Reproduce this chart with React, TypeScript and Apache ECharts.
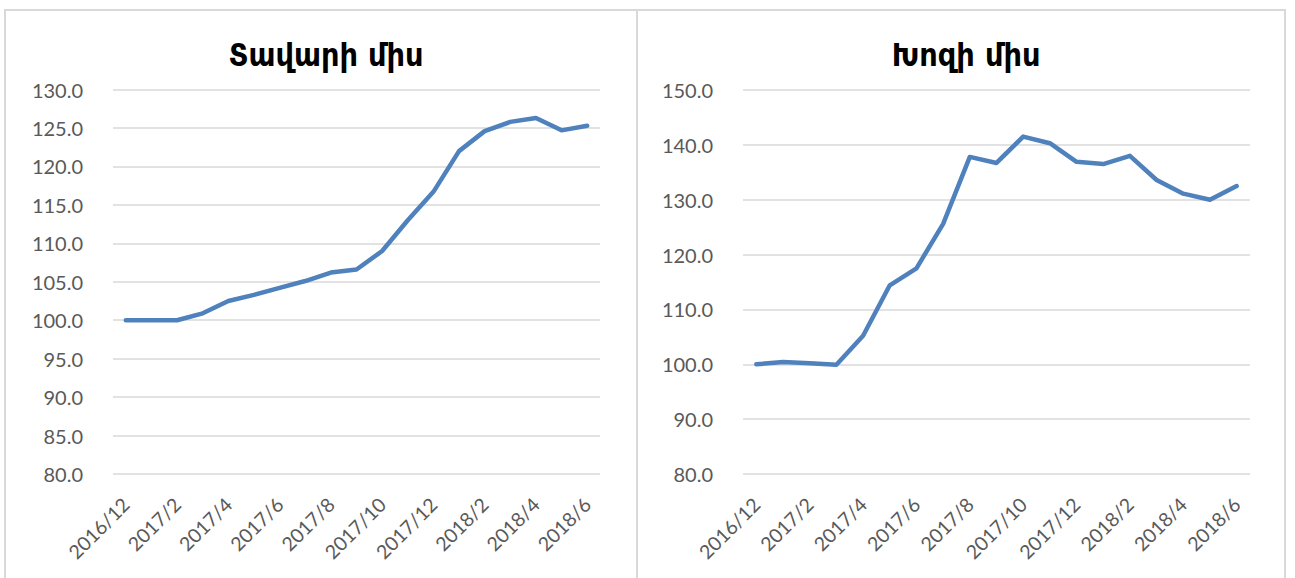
import React, { useEffect, useRef } from "react";
import * as echarts from "echarts";

const months: string[] = [
  "2016/12", "2017/1", "2017/2", "2017/3", "2017/4", "2017/5", "2017/6",
  "2017/7", "2017/8", "2017/9", "2017/10", "2017/11", "2017/12",
  "2018/1", "2018/2", "2018/3", "2018/4", "2018/5", "2018/6",
];

const beefTitle = "Տավարի միս";
const beefValues: number[] = [
  100.0, 100.0, 100.0, 100.9, 102.5, 103.3, 104.2, 105.1, 106.2, 106.6,
  109.0, 113.0, 116.7, 122.0, 124.6, 125.8, 126.3, 124.7, 125.3,
];

const porkTitle = "Խոզի միս";
const porkValues: number[] = [
  100.0, 100.4, 100.2, 99.9, 105.2, 114.4, 117.5, 125.6, 137.8, 136.7,
  141.5, 140.3, 136.9, 136.5, 138.0, 133.6, 131.1, 130.0, 132.5,
];

const LINE_COLOR = "#4F81BD";
const GRID_COLOR = "#D9D9D9";
const LABEL_COLOR = "#595959";
const LABEL_FONT = "Lato, 'Open Sans', sans-serif";
const TITLE_FONT = "'DejaVu Sans Condensed', 'DejaVu Sans', sans-serif";

export default function App() {
  const ref = useRef<HTMLDivElement>(null);
  useEffect(() => {
    if (!ref.current) return;
    const chart = echarts.init(ref.current, undefined, { renderer: "svg" });
    const xAxis = (gridIndex: number) => ({
      type: "category" as const,
      gridIndex,
      data: months,
      boundaryGap: true,
      axisLine: { show: false },
      axisTick: { show: false },
      axisLabel: {
        interval: 1,
        rotate: 45,
        margin: 27,
        color: LABEL_COLOR,
        fontFamily: LABEL_FONT,
        fontSize: 19.5,
      },
    });
    const yAxis = (gridIndex: number, min: number, max: number, interval: number) => ({
      type: "value" as const,
      gridIndex,
      min,
      max,
      interval,
      axisLine: { show: false },
      axisTick: { show: false },
      splitLine: { lineStyle: { color: GRID_COLOR, width: 1.5 } },
      axisLabel: {
        margin: 30,
        color: LABEL_COLOR,
        fontFamily: LABEL_FONT,
        fontSize: 20,
        formatter: (v: number) => v.toFixed(1),
      },
    });
    const lineSeries = (idx: number, data: number[]) => ({
      type: "line" as const,
      xAxisIndex: idx,
      yAxisIndex: idx,
      data,
      symbol: "none",
      lineStyle: { color: LINE_COLOR, width: 4.5, cap: "round", join: "round" },
    });
    chart.setOption({
      animation: false,
      backgroundColor: "#ffffff",
      title: [
        {
          text: beefTitle,
          left: 321,
          top: 34,
          textAlign: "center",
          textStyle: { fontFamily: TITLE_FONT, fontWeight: "bold", fontSize: 32, color: "#000" },
        },
        {
          text: porkTitle,
          left: 961,
          top: 34,
          textAlign: "center",
          textStyle: { fontFamily: TITLE_FONT, fontWeight: "bold", fontSize: 32, color: "#000" },
        },
      ],
      grid: [
        { left: 113, top: 89.6, width: 487, height: 384.4 },
        { left: 743, top: 90, width: 507, height: 384 },
      ],
      xAxis: [xAxis(0), xAxis(1)],
      yAxis: [yAxis(0, 80, 130, 5), yAxis(1, 80, 150, 10)],
      series: [lineSeries(0, beefValues), lineSeries(1, porkValues)],
      graphic: [
        {
          type: "polyline",
          shape: { points: [[5, 590], [5, 10], [1285, 10], [1285, 590]] },
          style: { stroke: GRID_COLOR, lineWidth: 2, fill: "none" },
          silent: true,
        },
        {
          type: "line",
          shape: { x1: 637, y1: 10, x2: 637, y2: 590 },
          style: { stroke: GRID_COLOR, lineWidth: 2 },
          silent: true,
        },
      ],
    });
    return () => chart.dispose();
  }, []);
  return (
    <div
      ref={ref}
      style={{ position: "absolute", left: 0, top: 0, width: 1295, height: 578 }}
    />
  );
}
